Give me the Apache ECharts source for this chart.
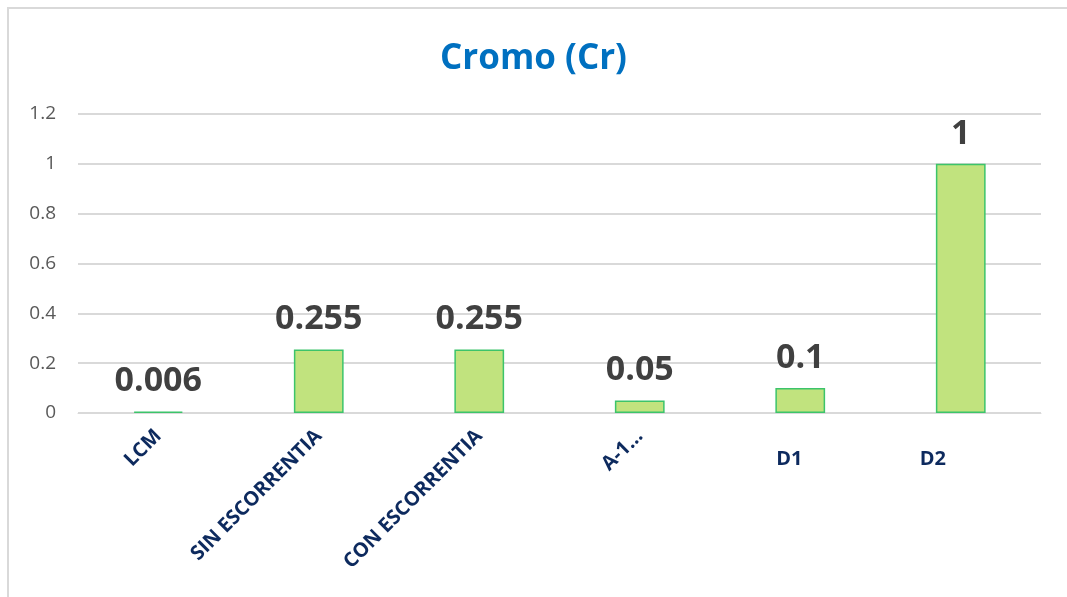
<!DOCTYPE html>
<html>
<head>
<meta charset="utf-8">
<script src="https://cdn.jsdelivr.net/npm/echarts@6/dist/echarts.min.js"></script>
<style>html,body{margin:0;padding:0;background:#fff}#c{width:1067px;height:597px}</style>
</head>
<body>
<div id="c"></div>
<script>
const categories = ['LCM', 'SIN ESCORRENTIA', 'CON ESCORRENTIA', 'A-1...', 'D1', 'D2'];
const values = [0.006, 0.255, 0.255, 0.05, 0.1, 1];
const labelsRotated = ['LCM', 'SIN ESCORRENTIA', 'CON ESCORRENTIA', 'A-1...'];
const labelsFlat = ['D1', 'D2'];
const yTicks = { min: 0, max: 1.2, interval: 0.2 };

const chart = echarts.init(document.getElementById('c'), null, { renderer: 'canvas' });
const flatPad = { 'D1': [0, 22, 0, 0], 'D2': [0, 56, 0, 0] };
const axisFont = { fontFamily: 'Open Sans', fontWeight: 'bold', fontSize: 20, color: '#0D2A5E' };
chart.setOption({
  backgroundColor: '#ffffff',
  animation: false,
  title: {
    text: 'Cromo (Cr)',
    left: 'center',
    top: 37,
    textStyle: { fontFamily: 'Open Sans', fontWeight: 'bold', fontSize: 35, color: '#0070C0' }
  },
  graphic: [{
    type: 'rect',
    shape: { x: 8, y: 8, width: 1100, height: 640 },
    style: { fill: 'none', stroke: '#d9d9d9', lineWidth: 2 },
    silent: true
  }],
  grid: { left: 78, right: 26, top: 114, bottom: 184 },
  xAxis: [{
    type: 'category',
    data: categories,
    axisLine: { show: true, lineStyle: { color: '#d9d9d9', width: 1 } },
    axisTick: { show: false },
    axisLabel: Object.assign({
      interval: 0,
      rotate: 45,
      margin: 20,
      formatter: v => labelsRotated.includes(v) ? v : ''
    }, axisFont)
  }, {
    type: 'category',
    data: categories,
    position: 'bottom',
    axisLine: { show: false },
    axisTick: { show: false },
    axisLabel: Object.assign({
      interval: 0,
      rotate: 0,
      margin: 36,
      formatter: v => labelsFlat.includes(v) ? '{' + v + '|' + v + '}' : '',
      rich: {
        D1: Object.assign({ padding: flatPad['D1'] }, axisFont),
        D2: Object.assign({ padding: flatPad['D2'] }, axisFont)
      }
    }, axisFont)
  }],
  yAxis: {
    type: 'value',
    min: yTicks.min, max: yTicks.max, interval: yTicks.interval,
    axisLine: { show: false },
    axisTick: { show: false },
    splitLine: { lineStyle: { color: '#d9d9d9', width: 2 } },
    axisLabel: {
      margin: 22,
      fontFamily: 'Open Sans', fontSize: 19, color: '#595959',
      formatter: v => String(Math.round(v * 10) / 10)
    }
  },
  series: [{
    type: 'bar',
    data: values,
    xAxisIndex: 0,
    barWidth: '31%',
    itemStyle: { color: '#C1E37E', borderColor: '#3CC46A', borderWidth: 1.5 },
    label: {
      show: true,
      position: 'top',
      distance: 13,
      fontFamily: 'Open Sans', fontWeight: 'bold', fontSize: 34, color: '#404040',
      formatter: p => String(p.value)
    }
  }]
});
</script>
</body>
</html>
